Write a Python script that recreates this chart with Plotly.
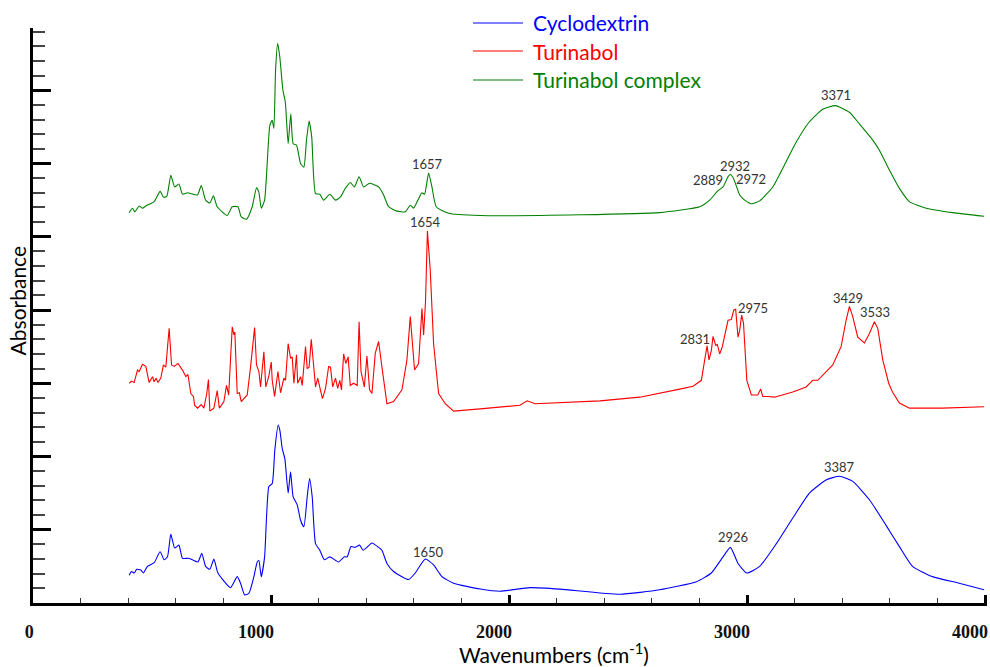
import plotly.graph_objects as go

# ---------------- data ----------------
# Cyclodextrin (blue)
cd_wn = [404, 414, 425, 436, 453, 464, 481, 509, 534, 551,
         565, 579, 595, 613, 628, 655, 693, 709, 725, 743,
         760, 777, 830, 858, 872, 889, 907, 928, 942, 949,
         959, 973, 991, 1005, 1016, 1030, 1037, 1047, 1058, 1072,
         1082, 1093, 1110, 1124, 1138, 1152, 1162, 1173, 1187, 1205,
         1224, 1247, 1284, 1308, 1320, 1336, 1354, 1372, 1387, 1403,
         1424, 1452, 1466, 1487, 1515, 1578, 1606, 1648, 1683, 1718,
         1767, 1879, 1962, 2088, 2214, 2466, 2633, 2787, 2850, 2899,
         2930, 2962, 2999, 3053, 3123, 3192, 3262, 3332, 3388, 3444,
         3514, 3584, 3640, 3695, 3779, 3891, 3996]
cd_abs = [0.38, 0.43, 0.41, 0.46, 0.45, 0.41, 0.50, 0.55, 0.70, 0.59,
          0.63, 0.94, 0.75, 0.79, 0.61, 0.61, 0.56, 0.68, 0.50, 0.46,
          0.60, 0.41, 0.21, 0.36, 0.27, 0.11, 0.13, 0.36, 0.56, 0.58,
          0.36, 0.63, 1.59, 1.63, 2.09, 2.43, 2.36, 2.11, 1.97, 1.50,
          1.79, 1.45, 1.34, 1.13, 1.04, 1.45, 1.70, 1.45, 0.81, 0.72,
          0.59, 0.63, 0.56, 0.63, 0.63, 0.77, 0.76, 0.79, 0.72, 0.76,
          0.82, 0.76, 0.72, 0.54, 0.43, 0.32, 0.41, 0.60, 0.52, 0.36,
          0.27, 0.19, 0.16, 0.21, 0.19, 0.12, 0.18, 0.29, 0.41, 0.63,
          0.76, 0.54, 0.41, 0.50, 0.81, 1.16, 1.50, 1.68, 1.73, 1.66,
          1.41, 1.06, 0.77, 0.50, 0.36, 0.27, 0.18]

# Turinabol (red)
tb_wn = [404, 414, 425, 439, 446, 460, 474, 488, 502, 509,
         517, 525, 537, 548, 558, 572, 582, 593, 609, 628,
         642, 651, 663, 674, 679, 691, 707, 718, 730, 737,
         743, 760, 774, 783, 802, 813, 822, 837, 844, 848,
         858, 867, 875, 900, 914, 931, 939, 949, 956, 970,
         978, 991, 1001, 1005, 1015, 1029, 1040, 1054, 1061, 1072,
         1082, 1089, 1096, 1107, 1112, 1124, 1131, 1145, 1152, 1160,
         1169, 1180, 1187, 1196, 1205, 1216, 1229, 1242, 1250, 1259,
         1271, 1280, 1289, 1296, 1305, 1314, 1324, 1333, 1347, 1362,
         1370, 1378, 1392, 1403, 1414, 1424, 1438, 1452, 1466, 1480,
         1487, 1515, 1550, 1571, 1585, 1603, 1620, 1634, 1641, 1649,
         1657, 1669, 1683, 1704, 1732, 1767, 1823, 1879, 2046, 2076,
         2109, 2382, 2549, 2633, 2717, 2773, 2808, 2822, 2832, 2840,
         2850, 2857, 2868, 2875, 2885, 2896, 2906, 2920, 2934, 2944,
         2952, 2962, 2969, 2977, 2985, 2999, 3018, 3045, 3057, 3066,
         3087, 3115, 3192, 3248, 3276, 3297, 3360, 3395, 3416, 3430,
         3444, 3465, 3493, 3514, 3535, 3549, 3570, 3595, 3611, 3640,
         3682, 3821, 3996]
tb_abs = [3.00, 3.03, 3.01, 3.18, 3.16, 3.26, 3.23, 3.01, 3.09, 3.02,
          3.07, 3.01, 3.07, 3.25, 3.22, 3.75, 3.25, 3.23, 3.27, 3.18,
          3.09, 3.12, 2.86, 2.82, 2.70, 2.66, 2.71, 2.66, 2.86, 3.05,
          2.62, 2.66, 2.90, 2.66, 2.75, 2.97, 2.84, 3.77, 3.66, 3.70,
          2.86, 2.87, 2.75, 2.84, 3.22, 3.76, 3.25, 3.16, 2.95, 3.43,
          2.95, 3.10, 3.29, 3.04, 2.82, 3.16, 2.87, 3.07, 3.04, 3.54,
          3.34, 3.36, 3.00, 3.39, 3.00, 3.09, 2.97, 3.50, 3.20, 3.22,
          3.60, 3.22, 2.95, 3.07, 2.93, 2.79, 2.93, 3.23, 3.22, 2.95,
          3.07, 2.93, 3.04, 2.91, 3.40, 3.27, 3.36, 2.97, 3.00, 2.97,
          3.84, 3.16, 2.95, 3.37, 2.91, 2.86, 3.41, 3.57, 3.22, 2.86,
          2.72, 2.75, 2.91, 3.32, 3.91, 3.18, 3.27, 4.02, 3.66, 4.11,
          5.08, 4.54, 3.54, 2.86, 2.72, 2.62, 2.63, 2.65, 2.70, 2.76,
          2.72, 2.76, 2.81, 2.86, 2.92, 2.96, 3.04, 3.32, 3.51, 3.32,
          3.45, 3.64, 3.52, 3.53, 3.40, 3.50, 3.66, 3.86, 3.87, 4.00,
          4.01, 3.63, 3.72, 3.93, 3.82, 3.04, 2.84, 2.84, 2.92, 2.82,
          2.82, 2.81, 2.88, 2.95, 3.04, 3.04, 3.25, 3.50, 3.86, 4.05,
          3.91, 3.63, 3.55, 3.68, 3.84, 3.75, 3.32, 3.00, 2.88, 2.73,
          2.66, 2.66, 2.68]

# Turinabol complex (green)
tc_wn = [404, 418, 428, 446, 460, 474, 509, 534, 548, 562,
         579, 595, 613, 628, 649, 691, 707, 725, 743, 758,
         774, 816, 837, 861, 875, 897, 921, 939, 949, 959,
         973, 995, 1005, 1012, 1019, 1028, 1037, 1050, 1060, 1072,
         1083, 1093, 1107, 1124, 1138, 1149, 1160, 1171, 1187, 1205,
         1221, 1247, 1271, 1291, 1312, 1333, 1350, 1370, 1389, 1414,
         1452, 1473, 1494, 1529, 1564, 1585, 1599, 1620, 1634, 1645,
         1662, 1676, 1694, 1746, 1879, 2300, 2633, 2801, 2843, 2878,
         2899, 2920, 2930, 2944, 2969, 2990, 3018, 3053, 3108, 3157,
         3206, 3262, 3318, 3371, 3430, 3472, 3528, 3556, 3598, 3640,
         3682, 3752, 3863, 3996]
tc_abs = [5.33, 5.39, 5.34, 5.42, 5.39, 5.42, 5.48, 5.62, 5.54, 5.55,
          5.84, 5.68, 5.72, 5.58, 5.60, 5.57, 5.70, 5.50, 5.46, 5.56,
          5.41, 5.29, 5.41, 5.41, 5.27, 5.24, 5.41, 5.67, 5.61, 5.39,
          5.50, 6.52, 6.59, 6.48, 7.27, 7.64, 7.45, 7.00, 6.84, 6.27,
          6.68, 6.27, 6.25, 6.00, 5.95, 6.32, 6.58, 6.36, 5.59, 5.58,
          5.50, 5.58, 5.50, 5.54, 5.66, 5.74, 5.68, 5.82, 5.68, 5.73,
          5.68, 5.57, 5.41, 5.35, 5.34, 5.43, 5.39, 5.52, 5.60, 5.58,
          5.87, 5.68, 5.41, 5.32, 5.29, 5.30, 5.33, 5.41, 5.50, 5.63,
          5.68, 5.82, 5.85, 5.79, 5.57, 5.50, 5.45, 5.49, 5.68, 5.98,
          6.29, 6.57, 6.74, 6.79, 6.70, 6.54, 6.32, 6.18, 5.91, 5.66,
          5.48, 5.39, 5.33, 5.28]

series_names = ["Cyclodextrin", "Turinabol", "Turinabol complex"]

# x tick labels
x_tickvals = [0, 1000, 2000, 3000, 4000]
x_ticktext = ["\u00a0" * 5 + "0", "1000", "2000", "3000", "4000"]

# peak labels: (text, wavenumber, absorbance)
peak_labels = [
    ("1650", 1662, 0.70), ("2926", 2941, 0.905), ("3387", 3388, 1.85),
    ("1654", 1648, 5.20), ("2831", 2780, 3.61), ("2975", 3024, 4.03),
    ("3429", 3423, 4.17), ("3533", 3539, 3.97),
    ("1657", 1657, 6.00), ("2889", 2836, 5.77), ("2932", 2948, 5.96),
    ("2972", 3018, 5.79), ("3371", 3374, 6.93),
]

assert len(cd_wn) == len(cd_abs)
assert len(tb_wn) == len(tb_abs)
assert len(tc_wn) == len(tc_abs)

colors = ["#0000FF", "#FF0000", "#008000"]
UI = "Lato"

fig = go.Figure()
for name, wn, ab, col, shp in [
    (series_names[0], cd_wn, cd_abs, colors[0], "spline"),
    (series_names[1], tb_wn, tb_abs, colors[1], "linear"),
    (series_names[2], tc_wn, tc_abs, colors[2], "spline"),
]:
    line = dict(color=col, width=1.1, shape=shp)
    if shp == "spline":
        line["smoothing"] = 0.5
    fig.add_trace(go.Scatter(x=wn, y=ab, mode="lines", line=line,
                             name=name, showlegend=False))

for txt, xv, yv in peak_labels:
    fig.add_annotation(x=xv, y=yv, text=txt, showarrow=False,
                       xanchor="center", yanchor="middle",
                       font=dict(family=UI, size=13, color="#333333"))

# legend (drawn manually above the plot area, as in the reference)
legend_y = [1.0087, 0.9600, 0.9096]
for name, col, ly in zip(series_names, colors, legend_y):
    fig.add_shape(type="line", xref="paper", yref="paper",
                  x0=0.4612, x1=0.5136, y0=ly, y1=ly,
                  line=dict(color=col, width=1.2))
    fig.add_annotation(xref="paper", yref="paper", x=0.5225, y=ly,
                       text=name, showarrow=False,
                       xanchor="left", yanchor="middle",
                       font=dict(family=UI, size=21, color=col))

# axis titles
fig.add_annotation(xref="paper", yref="paper", x=0.5466, y=-0.0875,
                   text="Wavenumbers (cm<sup>-1</sup>)", showarrow=False,
                   xanchor="center", yanchor="middle",
                   font=dict(family=UI, size=21, color="#000000"))
fig.add_annotation(xref="paper", yref="paper", x=-0.0165, y=0.525,
                   text="Absorbance", showarrow=False, textangle=-90,
                   xanchor="center", yanchor="middle",
                   font=dict(family=UI, size=21, color="#000000"))

fig.update_layout(
    width=990, height=667,
    margin=dict(l=33, r=3, t=28, b=64, autoexpand=False),
    paper_bgcolor="white", plot_bgcolor="white",
    showlegend=False,
    xaxis=dict(range=[0, 4008], tickmode="array",
               tickvals=x_tickvals, ticktext=x_ticktext,
               showgrid=False, zeroline=False,
               showline=True, linewidth=3, linecolor="black",
               ticks="inside", ticklen=8, tickwidth=3, tickcolor="black",
               minor=dict(tickmode="linear", tick0=0, dtick=200,
                          ticks="inside", ticklen=5, tickwidth=1,
                          tickcolor="#333333", showgrid=False),
               tickfont=dict(family="Liberation Serif", size=18,
                             color="#111111", weight="bold"),
               ticklabelstandoff=10, ticklabelshift=-15,
               ticklabeloverflow="allow"),
    yaxis=dict(range=[0, 7.85], tick0=0, dtick=1,
               showgrid=False, zeroline=False,
               showline=True, linewidth=3, linecolor="black",
               ticks="inside", ticklen=18, tickwidth=3, tickcolor="black",
               minor=dict(dtick=0.2, ticks="inside", ticklen=12, tickwidth=1.5,
                          tickcolor="#444444", showgrid=False),
               showticklabels=False),
)

fig.write_html("out.html",
               config={"displayModeBar": False},
               post_script="document.body.style.margin='0px';"
                           "document.body.style.overflow='hidden';")
